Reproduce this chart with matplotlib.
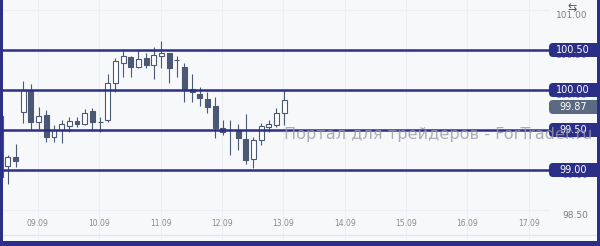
import matplotlib.pyplot as plt
from matplotlib.patches import FancyBboxPatch, Rectangle
from matplotlib.transforms import IdentityTransform
import numpy as np

# OHLC of the candles
opens = [99.68, 99.05, 99.16, 99.73, 100.00, 99.60, 99.69, 99.41, 99.50, 99.55,
         99.61, 99.575, 99.74, 99.60, 99.625, 100.09, 100.34, 100.41, 100.29, 100.40,
         100.31, 100.43, 100.46, 100.37, 100.29, 100.01, 99.95, 99.89, 99.80, 99.525,
         99.50, 99.50, 99.39, 99.14, 99.375, 99.54, 99.56, 99.71]
highs = [99.70, 99.19, 99.33, 100.11, 100.08, 99.79, 99.75, 99.56, 99.62, 99.66,
         99.66, 99.76, 99.78, 99.66, 100.20, 100.40, 100.49, 100.43, 100.50, 100.46,
         100.54, 100.61, 100.46, 100.42, 100.34, 100.20, 100.04, 99.975, 99.91, 99.625,
         99.625, 99.575, 99.70, 99.41, 99.59, 99.625, 99.775, 100.00]
lows = [98.88, 98.83, 99.04, 99.59, 99.50, 99.51, 99.35, 99.35, 99.34, 99.47,
        99.54, 99.56, 99.50, 99.47, 99.60, 99.975, 100.16, 100.16, 100.28, 100.275,
        100.14, 100.275, 100.09, 100.16, 99.85, 99.85, 99.80, 99.71, 99.40, 99.44,
        99.19, 99.25, 99.075, 99.025, 99.31, 99.475, 99.54, 99.56]
closes = [98.91, 99.16, 99.11, 100.00, 99.60, 99.68, 99.41, 99.50, 99.575, 99.61,
          99.58, 99.71, 99.60, 99.60, 100.09, 100.36, 100.425, 100.29, 100.39, 100.31,
          100.44, 100.46, 100.275, 100.37, 100.00, 99.975, 99.90, 99.79, 99.525, 99.475,
          99.50, 99.40, 99.125, 99.375, 99.55, 99.575, 99.71, 99.87]

levels = [100.50, 100.00, 99.50, 99.00]
axis_ticks = [101.00, 100.50, 100.00, 99.50, 99.00, 98.50]
last_price = 99.87
day_labels = ['09.09', '10.09', '11.09', '12.09', '13.09', '14.09', '15.09', '16.09', '17.09']
candles_per_day = 8

navy = '#2c2f88'
candle_col = '#4a5874'
bg = '#f7f8fa'

fig = plt.figure(figsize=(6, 2.46), dpi=100, facecolor=bg)
ax = fig.add_axes([0, 0, 1, 1])
ax.set_facecolor(bg)
ax.set_xlim(-0.04, 78.19)
ax.set_ylim(98.05, 101.125)
ax.axis('off')

# faint grid
day_pos = [4.9 + candles_per_day * k for k in range(len(day_labels))]
for x in day_pos:
    ax.axvline(x, color='#eceef2', lw=0.8, zorder=0)
for t in axis_ticks:
    ax.axhline(t, xmax=0.915, color='#eceef2', lw=0.8, zorder=0)
ax.axhline(98.19, color='#e2e4e8', lw=0.8, zorder=0)

# candles
x = np.arange(len(opens))
o, h, l, c = map(np.array, (opens, highs, lows, closes))
ax.vlines(x, l, h, color=candle_col, lw=0.8, zorder=2)
up = c >= o
body = np.maximum(np.abs(c - o), 0.006)
ax.bar(x[up], body[up], bottom=np.minimum(o, c)[up], width=0.65,
       facecolor='white', edgecolor=candle_col, lw=0.8, zorder=3)
ax.bar(x[~up], body[~up], bottom=np.minimum(o, c)[~up], width=0.65,
       facecolor=candle_col, edgecolor=candle_col, lw=0.8, zorder=3)

# level lines
for lv in levels:
    ax.axhline(lv, xmax=0.915, color=navy, lw=1.8, zorder=4)

# axis labels on the right
for t in axis_ticks:
    ax.text(588 / 600, t - 0.075, f'{t:.2f}', transform=ax.get_yaxis_transform(), fontsize=6.5,
            color='#7d7d85', ha='right', va='center', zorder=1)
for k, lab in enumerate(day_labels):
    ax.text(day_pos[k], 0.093, lab, transform=ax.get_xaxis_transform(), fontsize=5.5,
            color='#8a8a92', ha='center', va='center')

fig.canvas.draw()


def price_box(price, color, dy=0.0):
    yd = ax.transData.transform((0, price))[1] + dy
    box = FancyBboxPatch((549, yd - 7), 52, 14, boxstyle='round,pad=0,rounding_size=4',
                         facecolor=color, edgecolor='none', transform=IdentityTransform(), zorder=5)
    fig.add_artist(box)
    fig.text(573 / 600, yd / 246, f'{price:.2f}', color='white', fontsize=7,
             ha='center', va='center', zorder=6)


for lv in levels:
    price_box(lv, navy)
ax_y100 = 100.00
price_box(last_price, '#5b6a80', dy=ax.transData.transform((0, ax_y100))[1]
          - ax.transData.transform((0, last_price))[1] - 17)

# watermark
fig.text(284 / 600, 1 - 134 / 246, 'Портал для трейдеров - ForTrader.ru', fontsize=11.6,
         color='#9a9aa8', alpha=0.8, ha='left', va='center', zorder=7)

# small icon top right
fig.text(572 / 600, 1 - 8 / 246, '⇆', fontsize=8, color='#555560', ha='center', va='center')

# frame
for rect in [(0, 0, 3 / 600, 1), (597 / 600, 0, 3 / 600, 1), (0, 0, 1, 5 / 246)]:
    fig.add_artist(Rectangle(rect[:2], rect[2], rect[3], transform=fig.transFigure,
                             facecolor=navy, edgecolor='none', zorder=10))

fig.savefig('out.png', dpi=100, facecolor=bg)
